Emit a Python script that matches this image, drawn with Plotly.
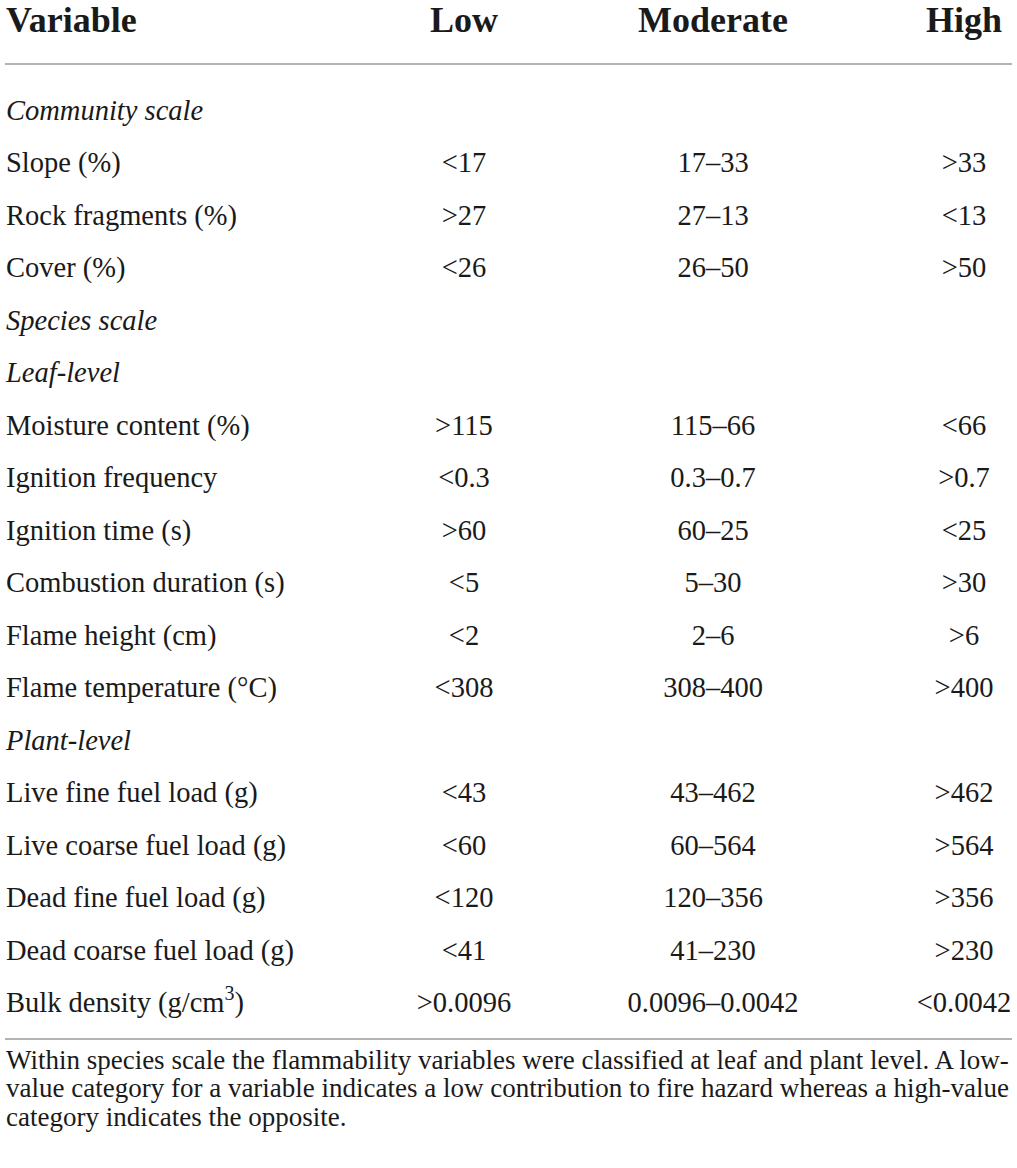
import html
import plotly.graph_objects as go

# ---- data -------------------------------------------------------------
headers = ["Variable", "Low", "Moderate", "High"]
section_rows = ["Community scale", "Species scale", "Leaf-level", "Plant-level"]
variables = [
    "Community scale",
    "Slope (%)",
    "Rock fragments (%)",
    "Cover (%)",
    "Species scale",
    "Leaf-level",
    "Moisture content (%)",
    "Ignition frequency",
    "Ignition time (s)",
    "Combustion duration (s)",
    "Flame height (cm)",
    "Flame temperature (°C)",
    "Plant-level",
    "Live fine fuel load (g)",
    "Live coarse fuel load (g)",
    "Dead fine fuel load (g)",
    "Dead coarse fuel load (g)",
    "Bulk density (g/cm<sup>3</sup>)",
]
low = ["", "<17", ">27", "<26", "", "", ">115", "<0.3", ">60", "<5", "<2", "<308",
       "", "<43", "<60", "<120", "<41", ">0.0096"]
moderate = ["", "17–33", "27–13", "26–50", "", "", "115–66", "0.3–0.7", "60–25", "5–30",
            "2–6", "308–400", "", "43–462", "60–564", "120–356", "41–230", "0.0096–0.0042"]
high = ["", ">33", "<13", ">50", "", "", "<66", ">0.7", "<25", ">30", ">6", ">400",
        "", ">462", ">564", ">356", ">230", "<0.0042"]
footnote_lines = [
    "Within species scale the flammability variables were classified at leaf and plant level. A low-",
    "value category for a variable indicates a low contribution to fire hazard whereas a high-value",
    "category indicates the opposite.",
]

# ---- layout constants ---------------------------------------------------
W, H = 1017, 1168
FONT = "Liberation Serif"
INK = "#1a1a1a"
X_VAR = 6
COL_X = [464, 713, 964]
HEADER_Y = 23
ROW0_Y = 112.5
ROW_STEP = 52.5
FOOT_Y0 = 1062
FOOT_STEP = 28.5

row_y = [ROW0_Y + i * ROW_STEP for i in range(len(variables))]

fig = go.Figure()

def text_trace(xs, ys, texts, pos, size):
    return go.Scatter(x=xs, y=ys, mode="text", text=texts, textposition=pos,
                      textfont=dict(family=FONT, size=size, color=INK),
                      hoverinfo="skip", showlegend=False, cliponaxis=False)

# header
fig.add_trace(text_trace([X_VAR], [HEADER_Y], [f"<b>{headers[0]}</b>"], "middle right", 36))
fig.add_trace(text_trace(COL_X, [HEADER_Y] * 3, [f"<b>{h}</b>" for h in headers[1:]],
                         "middle center", 36))

# variable column
var_text = [f"<i>{v}</i>" if v in section_rows else v for v in variables]
fig.add_trace(text_trace([X_VAR] * len(variables), row_y, var_text, "middle right", 28.5))

# value columns (section rows have no values)
for cx, col in zip(COL_X, [low, moderate, high]):
    ys = [y for y, c in zip(row_y, col) if c]
    ts = [html.escape(c) for c in col if c]
    fig.add_trace(text_trace([cx] * len(ts), ys, ts, "middle center", 28.5))

# footnote
fig.add_trace(text_trace([X_VAR] * len(footnote_lines),
                         [FOOT_Y0 + i * FOOT_STEP for i in range(len(footnote_lines))],
                         footnote_lines, "middle right", 27))

# rules
for yl in [64, 1039]:
    fig.add_shape(type="line", x0=5, x1=1012, y0=yl, y1=yl, xref="x", yref="y",
                  line=dict(color="#9a9a9a", width=1.5))

fig.update_layout(
    width=W, height=H, margin=dict(l=0, r=0, t=0, b=0),
    paper_bgcolor="white", plot_bgcolor="white",
    xaxis=dict(range=[0, W], visible=False, fixedrange=True),
    yaxis=dict(range=[H, 0], visible=False, fixedrange=True),
)

fig.write_html("out.html", config={"displayModeBar": False},
               post_script="document.body.style.margin='0';document.body.style.overflow='hidden';")
